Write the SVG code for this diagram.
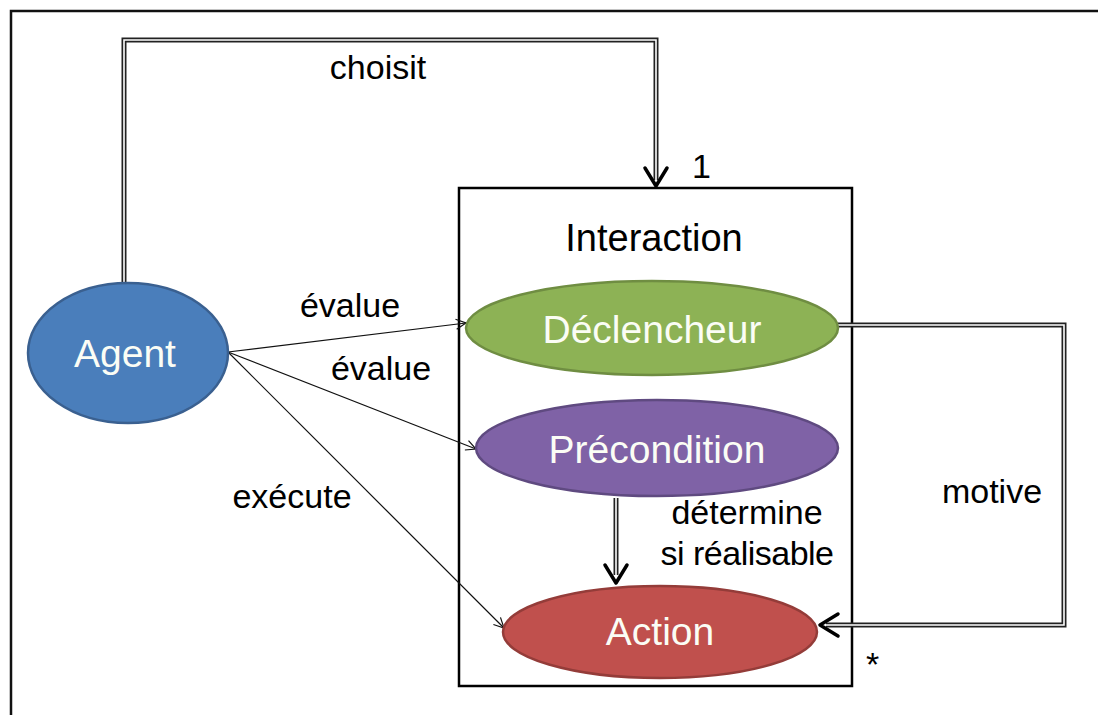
<svg xmlns="http://www.w3.org/2000/svg" width="1098" height="715" viewBox="0 0 1098 715">
<style>
text{font-family:"Liberation Sans",Arial,sans-serif;}
.lbl{font-size:34px;fill:#000;}
.nd{font-size:39px;fill:#fbfdf5;text-anchor:middle;}
.dbl-o{fill:none;stroke:#222;stroke-width:5;}
.dbl-i{fill:none;stroke:#fff;stroke-width:1.6;}
.thin{fill:none;stroke:#111;stroke-width:1.2;}
.head{fill:none;stroke:#000;stroke-width:3.5;stroke-linecap:round;stroke-linejoin:round;}
</style>
<defs>
<marker id="thinArrow" viewBox="0 0 12 12" refX="11" refY="6" markerWidth="12" markerHeight="12" markerUnits="userSpaceOnUse" orient="auto">
<path d="M1,1 L11,6 L1,11" fill="none" stroke="#111" stroke-width="1.2"/>
</marker>
</defs>
<rect width="1098" height="715" fill="#fff"/>
<rect x="11" y="11" width="1100" height="720" fill="none" stroke="#111" stroke-width="2.5"/>
<g id="interaction">
<rect x="459" y="188" width="393" height="498" fill="#fff" stroke="#000" stroke-width="2.5"/>
<text x="654" y="251" font-size="38" text-anchor="middle">Interaction</text>
</g>
<g id="connectors">
<path class="dbl-o" d="M124,283 V40 H656 V180"/>
<path class="dbl-i" d="M124,283 V40 H656 V180"/>
<path class="head" d="M645,168 L656,186 L667,168"/>
<path class="dbl-o" d="M616,498 V575"/>
<path class="dbl-i" d="M616,498 V575"/>
<path class="head" d="M605,565 L616,583 L627,565"/>
<path class="dbl-o" d="M838,325 H1064 V625 H826"/>
<path class="dbl-i" d="M838,325 H1064 V625 H826"/>
<path class="head" d="M838,614 L820,625 L838,636"/>
<line class="thin" x1="228" y1="352" x2="466" y2="323" marker-end="url(#thinArrow)"/>
<line class="thin" x1="228" y1="352" x2="476" y2="449" marker-end="url(#thinArrow)"/>
<line class="thin" x1="228" y1="352" x2="504" y2="628" marker-end="url(#thinArrow)"/>
</g>
<g id="agent">
<ellipse cx="128" cy="353" rx="100" ry="70" fill="#4a7ebb" stroke="#3a6090" stroke-width="2.5"/>
<text class="nd" x="125" y="367">Agent</text>
</g>
<g id="declencheur">
<ellipse cx="652" cy="328" rx="186" ry="47" fill="#8db255" stroke="#6f8d42" stroke-width="2.5"/>
<text class="nd" x="652" y="343">Déclencheur</text>
</g>
<g id="precondition">
<ellipse cx="657" cy="448" rx="181" ry="48" fill="#7f62a6" stroke="#5f4a80" stroke-width="2.5"/>
<text class="nd" x="657" y="463">Précondition</text>
</g>
<g id="action">
<ellipse cx="660" cy="632" rx="157" ry="46" fill="#c0504d" stroke="#943c39" stroke-width="2.5"/>
<text class="nd" x="660" y="645">Action</text>
</g>
<g id="labels">
<text class="lbl" x="378" y="79" text-anchor="middle">choisit</text>
<text class="lbl" x="692" y="178" font-size="30">1</text>
<text class="lbl" x="350" y="317" text-anchor="middle">évalue</text>
<text class="lbl" x="381" y="380" text-anchor="middle">évalue</text>
<text class="lbl" x="292" y="508" text-anchor="middle">exécute</text>
<text class="lbl" x="992" y="503" text-anchor="middle">motive</text>
<text class="lbl" x="747" y="524" text-anchor="middle">détermine</text>
<text class="lbl" x="747" y="565" text-anchor="middle" letter-spacing="-0.5">si réalisable</text>
<text class="lbl" x="866" y="676" font-size="28">*</text>
</g>
</svg>
